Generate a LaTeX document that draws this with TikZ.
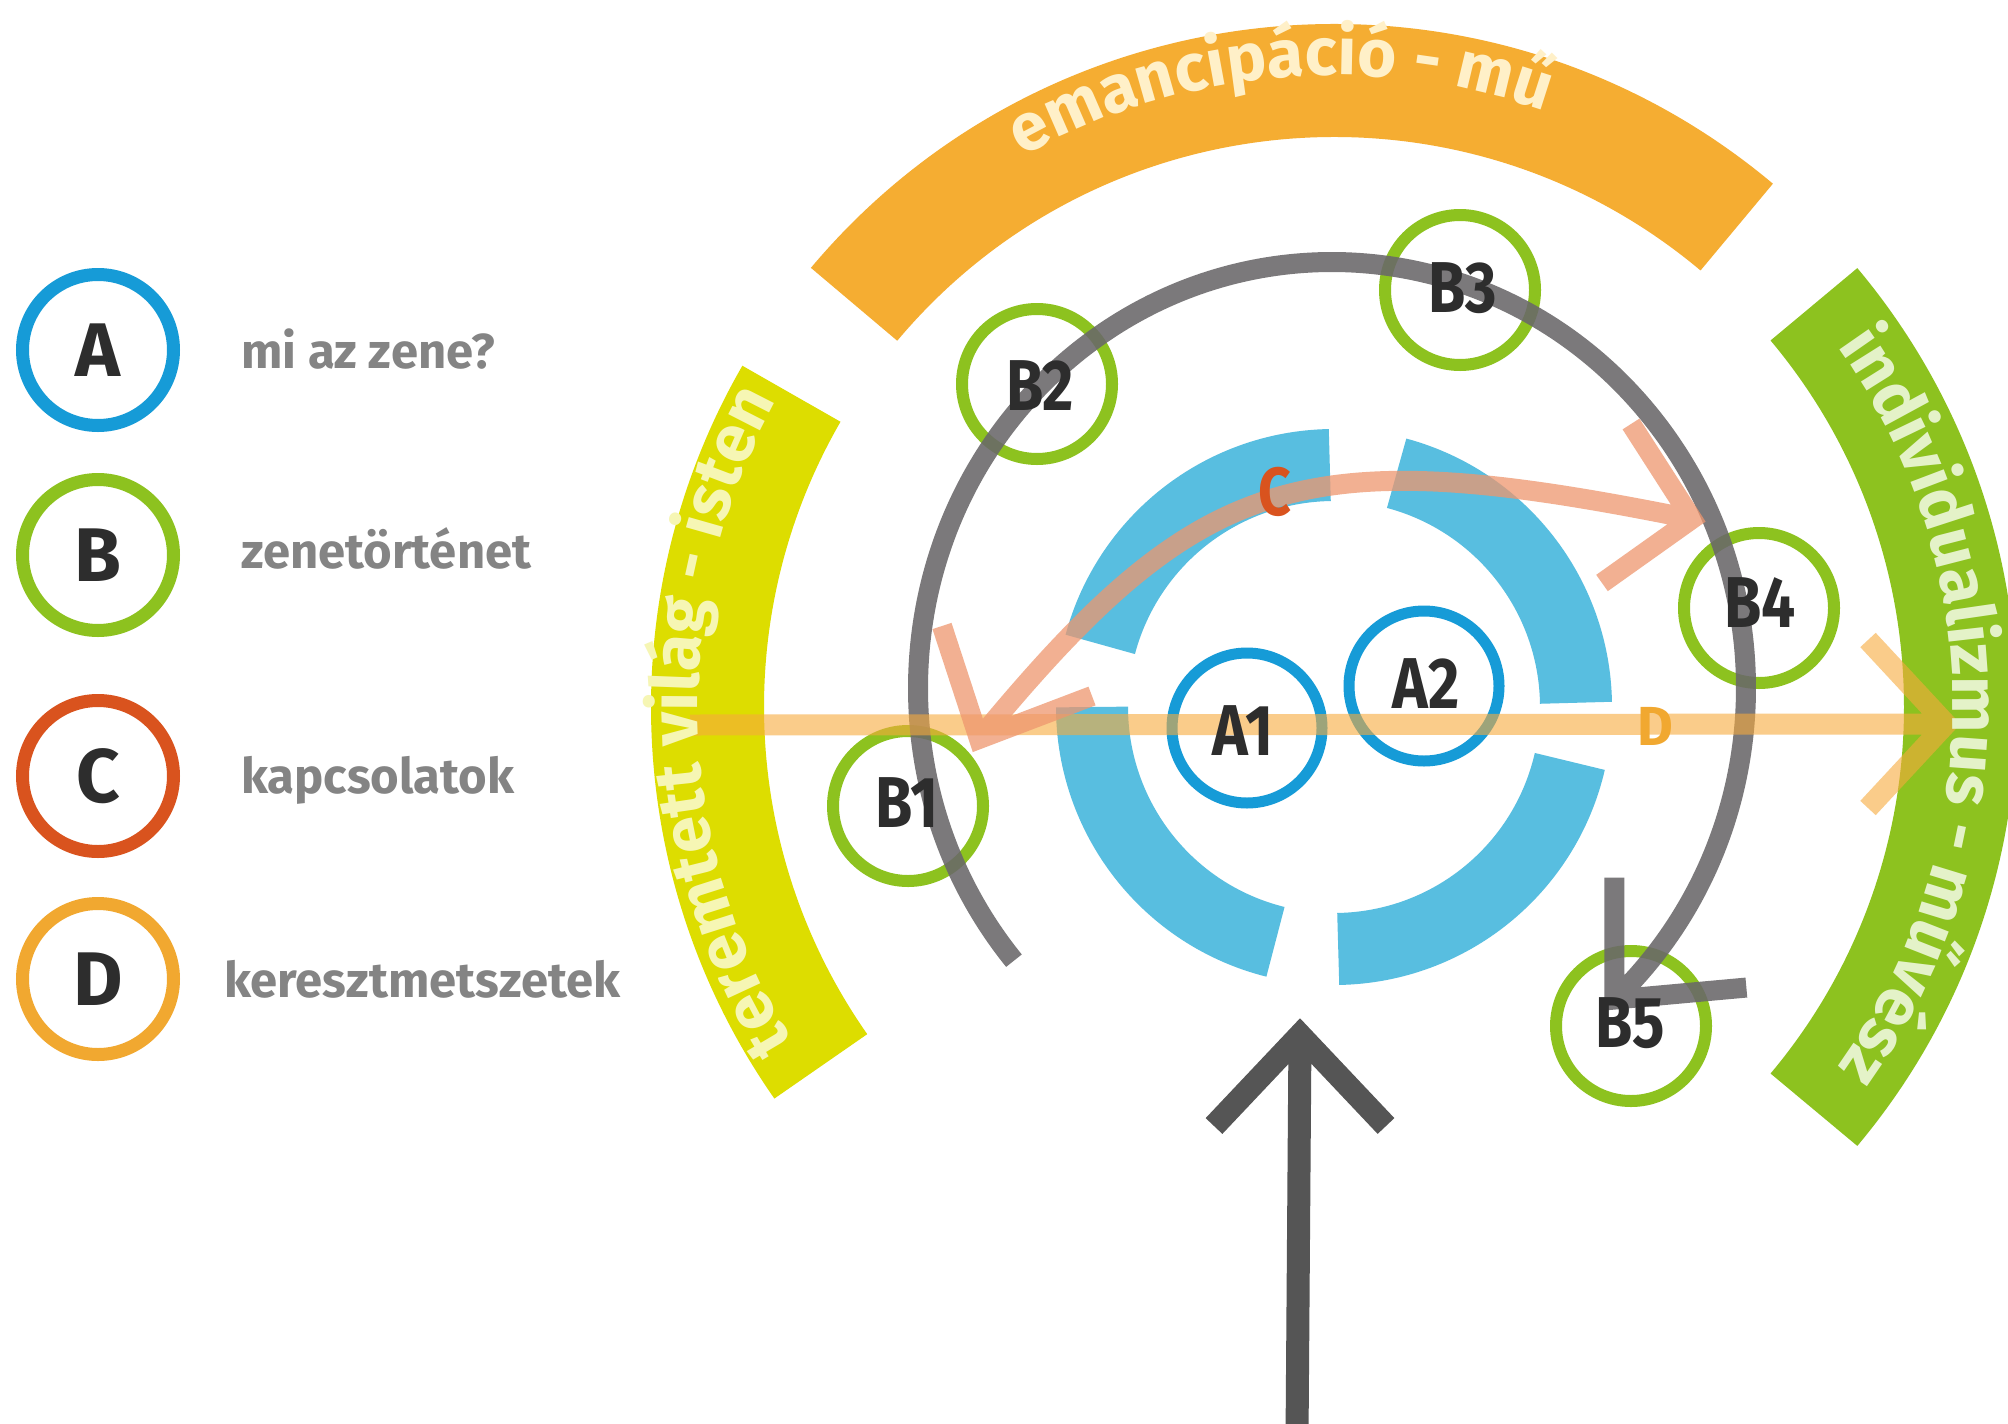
\documentclass[tikz,border=0pt]{standalone}
\usepackage{fontspec}
\setmainfont{Fira Sans}
\newfontfamily\condfont{Fira Sans}[FakeStretch=0.84]
\usetikzlibrary{decorations.text,calc}
\definecolor{ringblue}{RGB}{88,190,224}
\definecolor{ablue}{RGB}{22,155,215}
\definecolor{bgreen}{RGB}{141,194,31}
\definecolor{cred}{RGB}{217,83,30}
\definecolor{dorange}{RGB}{241,168,48}
\definecolor{bandorange}{RGB}{245,173,50}
\definecolor{bandyellow}{RGB}{221,221,0}
\definecolor{bandgreen}{RGB}{141,194,31}
\definecolor{arcgray}{RGB}{105,103,105}
\definecolor{arrowgray}{RGB}{85,85,85}
\definecolor{txtdark}{RGB}{45,45,45}
\definecolor{legtext}{RGB}{132,132,132}
\definecolor{salmon}{RGB}{238,150,110}
\definecolor{dline}{RGB}{247,170,60}
\definecolor{creamO}{RGB}{255,240,200}
\definecolor{creamY}{RGB}{246,246,180}
\definecolor{creamG}{RGB}{228,242,200}
\newcommand\bandO{\color{creamO}\bfseries\fontsize{67}{67}\selectfont}
\newcommand\bandY{\color{creamY}\bfseries\fontsize{67}{67}\selectfont}
\newcommand\bandG{\color{creamG}\bfseries\fontsize{67}{67}\selectfont}
\begin{document}
\begin{tikzpicture}[x=1pt,y=1pt,
  legcirc/.style={circle,draw,line width=13pt,minimum size=151pt,inner sep=0pt,text=txtdark,font=\bfseries\fontsize{76}{76}\selectfont},
  legtxt/.style={anchor=base west,text=legtext,font=\bfseries\fontsize{49}{49}\selectfont,inner sep=0pt},
  bcirc/.style={circle,draw=bgreen,line width=12pt,minimum size=150pt,inner sep=0pt},
  acirc/.style={circle,draw=ablue,line width=11pt,minimum size=150pt,inner sep=0pt},
  lbl/.style={text=txtdark,font=\condfont\bfseries\fontsize{72}{72}\selectfont,inner sep=0pt},
  band/.style={line width=113pt},
  ringseg/.style={ringblue,line width=72pt},
  grayline/.style={arcgray,line width=20pt,opacity=0.88,line join=miter},
  dstyle/.style={dline,line width=21pt,opacity=0.6,line join=miter},
  cstyle/.style={salmon,line width=20pt,opacity=0.75,line join=miter},
  bigarrow/.style={arrowgray,line width=23pt,line join=miter}
]
\path[use as bounding box] (0,0) rectangle (2008,-1424);
\clip (0,0) rectangle (2008,-1424);
\fill[white] (0,0) rectangle (2008,-1424);

\coordinate (O) at (1334,-707);
\coordinate (GC) at (1332,-688);

% outer bands
\draw[band,bandorange] (O) ++(140:626.5pt) arc[start angle=140,end angle=50,radius=626.5pt];
\draw[band,bandyellow] (O) ++(215:626.5pt) arc[start angle=215,end angle=150,radius=626.5pt];
\draw[band,bandgreen] (O) ++(40:626.5pt) arc[start angle=40,end angle=-40,radius=626.5pt];

% blue ring
\draw[ringseg] (O) ++(75:242pt) arc[start angle=75,end angle=1,radius=242pt];
\draw[ringseg] (O) ++(165:242pt) arc[start angle=165,end angle=91,radius=242pt];
\draw[ringseg] (O) ++(256:242pt) arc[start angle=256,end angle=180,radius=242pt];
\draw[ringseg] (O) ++(347:242pt) arc[start angle=347,end angle=271,radius=242pt];

% A circles
\node[acirc] (A1) at (1247,-728) {};
\node[acirc] (A2) at (1424,-686) {};

% B circles
\node[bcirc] (B1) at (908,-806) {};
\node[bcirc] (B2) at (1037,-384) {};
\node[bcirc] (B3) at (1460,-290) {};
\node[bcirc] (B4) at (1759,-608) {};
\node[bcirc] (B5) at (1631,-1026) {};

% gray history arc with arrow
\path (GC) ++(219.8:414pt and 426pt) coordinate (Bstart);
\path (GC) ++(-47:414pt and 426pt) coordinate (Btip);
\coordinate (BarmV) at ($(Btip)+(0,122)$);
\coordinate (BarmH) at ($(Btip)+(132,12)$);
\draw[grayline] (Bstart) arc[start angle=219.8,end angle=-47,x radius=414pt,y radius=426pt]
   (BarmV) -- (Btip) -- (BarmH);

% D line
\coordinate (Dstart) at (690,-725);
\coordinate (Dtip) at (1946,-724);
\coordinate (DarmU) at (1868,-640);
\coordinate (DarmL) at (1868,-808);
\draw[dstyle] (Dstart) -- (Dtip) (DarmU) -- (Dtip) -- (DarmL);

% C curve
\coordinate (CL) at (979,-739);
\coordinate (CL1) at (942,-626);
\coordinate (CL2) at (1092,-696);
\coordinate (CR) at (1692,-519);
\coordinate (CR1) at (1631,-424);
\coordinate (CR2) at (1602,-583);
\draw[cstyle] (CL1) -- (CL) -- (CL2)
  (CL) .. controls (1201,-470) and (1302,-440) .. (CR)
  (CR1) -- (CR) -- (CR2);

% band texts
\path[decorate,decoration={text along path,text={|\bandO|emancipáció - mű},text align=center}]
  (O) ++(140:632pt) arc[start angle=140,end angle=50,radius=632pt];
\path[decorate,decoration={text along path,text={|\bandY|teremtett világ - isten},text align=center}]
  (O) ++(215:636pt) arc[start angle=215,end angle=148,radius=636pt];
\path[decorate,decoration={text along path,text={|\bandG|individualizmus - művész},text align=center}]
  (O) ++(40:619pt) arc[start angle=40,end angle=-40,radius=619pt];

% labels
\node[lbl] (A1l) at (1243,-731) {A1};
\node[lbl] (A2l) at (1426,-684) {A2};
\node[lbl] (B1l) at (907,-803) {B1};
\node[lbl] (B2l) at (1040,-386) {B2};
\node[lbl] (B3l) at (1463,-288) {B3};
\node[lbl] (B4l) at (1760,-603) {B4};
\node[lbl] (B5l) at (1630,-1023) {B5};
\node[text=cred,font=\condfont\bfseries\fontsize{68}{68}\selectfont,inner sep=0pt] (Cl) at (1275,-492) {C};
\node[text=dorange,font=\bfseries\fontsize{55}{55}\selectfont,inner sep=0pt] (Dl) at (1655,-726) {D};

% bottom arrow
\coordinate (Bbot) at (1297,-1440);
\coordinate (Bapex) at (1300,-1035);
\coordinate (Barm1) at (1214,-1126);
\coordinate (Barm2) at (1386,-1126);
\draw[bigarrow] (Bbot) -- (Bapex) (Barm1) -- (Bapex) -- (Barm2);

% legend
\node[legcirc,draw=ablue] (LA) at (98,-350) {A};
\node[legcirc,draw=bgreen] (LB) at (98,-555) {B};
\node[legcirc,draw=cred] (LC) at (98,-776) {C};
\node[legcirc,draw=dorange] (LD) at (98,-979) {D};
\node[legtxt] (tA) at (241,-368) {mi az zene?};
\node[legtxt] (tB) at (241,-568) {zenetörténet};
\node[legtxt] (tC) at (241,-793) {kapcsolatok};
\node[legtxt] (tD) at (224,-997) {keresztmetszetek};
\end{tikzpicture}
\end{document}
